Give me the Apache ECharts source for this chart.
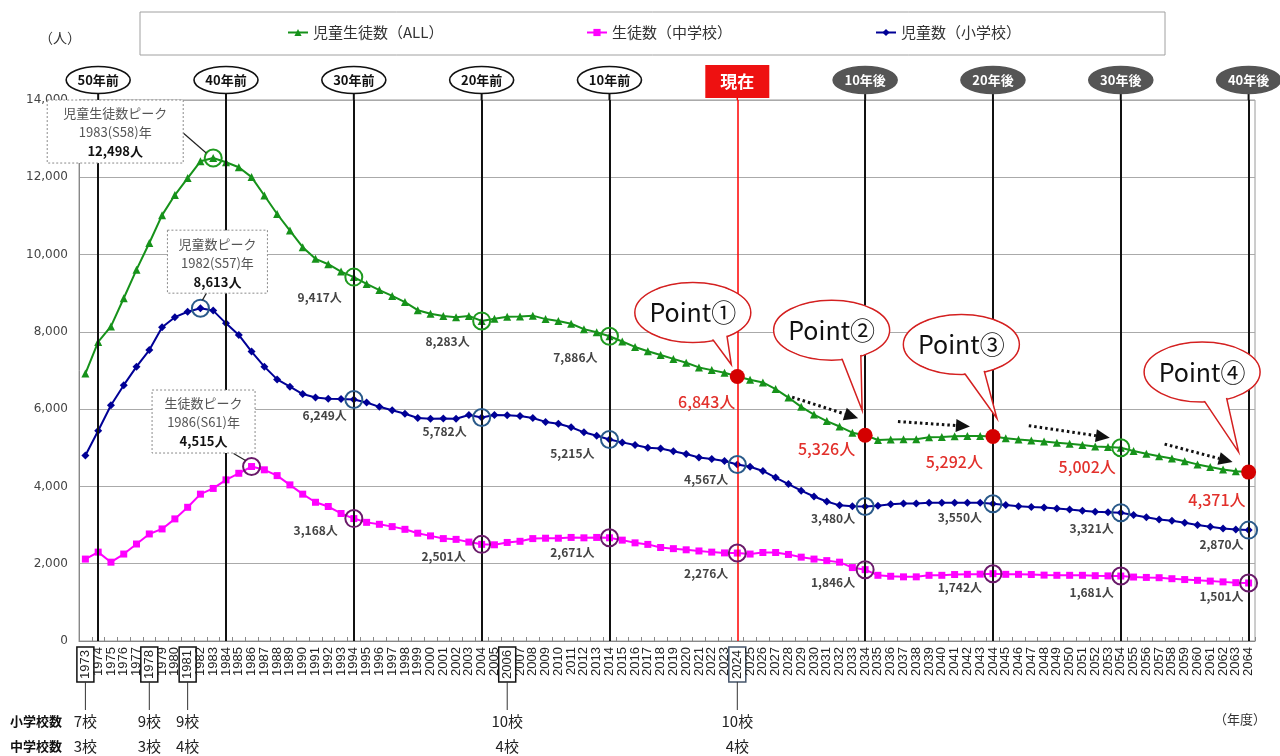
<!DOCTYPE html>
<html lang="ja"><head><meta charset="utf-8"><title>児童生徒数の推移</title>
<script src="https://cdn.jsdelivr.net/npm/echarts@6.0.0/dist/echarts.min.js"></script>
<style>html,body{margin:0;padding:0;background:#fff;}#chart{width:1280px;height:756px;}</style>
</head><body><div id="chart"></div>
<script>
// ---------------- DATA ----------------
const years = ['1973','1974','1975','1976','1977','1978','1979','1980','1981','1982',
'1983','1984','1985','1986','1987','1988','1989','1990','1991','1992',
'1993','1994','1995','1996','1997','1998','1999','2000','2001','2002',
'2003','2004','2005','2006','2007','2008','2009','2010','2011','2012',
'2013','2014','2015','2016','2017','2018','2019','2020','2021','2022',
'2023','2024','2025','2026','2027','2028','2029','2030','2031','2032',
'2033','2034','2035','2036','2037','2038','2039','2040','2041','2042',
'2043','2044','2045','2046','2047','2048','2049','2050','2051','2052',
'2053','2054','2055','2056','2057','2058','2059','2060','2061','2062',
'2063','2064'];
const totalAll = [6920,7740,8140,8870,9610,10300,11020,11540,11980,12413,
12498,12390,12260,12005,11530,11050,10620,10190,9890,9750,
9560,9417,9240,9080,8930,8770,8560,8470,8410,8380,
8410,8283,8340,8390,8400,8420,8330,8280,8210,8070,
7990,7886,7750,7610,7500,7400,7300,7200,7080,7010,
6940,6843,6760,6690,6520,6300,6060,5860,5690,5550,
5390,5326,5200,5215,5220,5220,5275,5280,5300,5305,
5305,5292,5245,5215,5190,5160,5130,5105,5070,5035,
5020,5002,4915,4845,4783,4722,4650,4570,4505,4440,
4395,4371];
const elementary = [4800,5440,6100,6620,7100,7530,8120,8380,8520,8613,
8550,8220,7920,7490,7100,6770,6580,6390,6300,6270,
6260,6249,6170,6060,5970,5880,5770,5750,5760,5750,
5850,5782,5850,5840,5820,5770,5670,5620,5530,5400,
5310,5215,5140,5070,5000,4980,4910,4840,4750,4710,
4660,4567,4510,4400,4230,4060,3890,3740,3610,3510,
3490,3480,3500,3540,3560,3560,3575,3580,3580,3580,
3575,3550,3520,3490,3470,3455,3430,3405,3370,3345,
3335,3321,3260,3200,3145,3110,3060,3000,2955,2910,
2885,2870];
const juniorHigh = [2120,2300,2040,2250,2510,2770,2900,3160,3460,3800,
3948,4170,4340,4515,4430,4280,4040,3800,3590,3480,
3300,3168,3070,3020,2960,2890,2790,2720,2650,2630,
2560,2501,2490,2550,2580,2650,2660,2660,2680,2670,
2680,2671,2610,2540,2500,2420,2390,2360,2330,2300,
2280,2276,2250,2290,2290,2240,2170,2120,2080,2040,
1900,1846,1700,1675,1660,1660,1700,1700,1720,1725,
1730,1742,1725,1725,1720,1705,1700,1700,1700,1690,
1685,1681,1655,1645,1638,1612,1590,1570,1550,1530,
1510,1501];
const seriesNames = {total:'児童生徒数（ALL）', junior:'生徒数（中学校）', elem:'児童数（小学校）'};
const decadeYears = ['1974','1984','1994','2004','2014','2034','2044','2054','2064'];
const decadeTags  = ['50年前','40年前','30年前','20年前','10年前','10年後','20年後','30年後','40年後'];
const nowYear = '2024';
const nowTag = '現在';
const schoolYears = ['1973','1978','1981','2006','2024'];
const elemSchoolCounts = ['7校','9校','9校','10校','10校'];
const juniorSchoolCounts = ['3校','3校','4校','4校','4校'];
const peakNotes = [
  {key:'total',  year:'1983', era:'S58', title:'児童生徒数ピーク'},
  {key:'elem',   year:'1982', era:'S57', title:'児童数ピーク'},
  {key:'junior', year:'1986', era:'S61', title:'生徒数ピーク'}
];
const totalRingYears  = ['1983','1994','2004','2014','2054'];
const elemRingYears   = ['1982','1994','2004','2014','2024','2034','2044','2054','2064'];
const juniorRingYears = ['1986','1994','2004','2014','2024','2034','2044','2054','2064'];
const pointYears = ['2024','2034','2044','2064'];
const pointNames = ['Point①','Point②','Point③','Point④'];
const arrowYears = ['2034','2044','2054','2064'];

// ---------------- LAYOUT / STYLE ----------------
const FONT = '"Noto Sans CJK JP","Noto Sans",sans-serif';
const AXFONT = '"Liberation Sans",Arial,sans-serif';
const C = {total:'#16921a', junior:'#ff00ff', elem:'#000096',
  ringTotal:'#1f9a1f', ringElem:'#2a5a8a', ringJunior:'#6a1a6a', red:'#d40000', redText:'#e2302b'};
const labelOff = {
  total:{'1994':[-12,20],'2004':[-12,21],'2014':[-12,21]},
  totalRed:{'2024':[-2,25],'2034':[-10,14],'2044':[-10,25],'2054':[-5,19],'2064':[-3,28]},
  elem:{'1994':[-7,16],'2004':[-15,14],'2014':[-15,14],'2024':[-9,15],'2034':[-10,12],'2044':[-11,14],'2054':[-7,16],'2064':[-5,14]},
  junior:{'1994':[-16,12],'2004':[-16,12],'2014':[-15,15],'2024':[-9,20],'2034':[-10,13],'2044':[-11,14],'2054':[-7,16],'2064':[-5,13]}
};
const peakBox = {
  total:{dx:-166,dy:-58,w:136,h:63,lead:[[-30,-25],[-7,-5]]},
  elem:{dx:-33,dy:-78,w:100,h:63,lead:[[6,-15],[2,-8]]},
  junior:{dx:-99.5,dy:-76.5,w:103,h:63,lead:[[-18,-13],[-6,-6]]}
};
const bubbleLay = [
  {c:[-44.5,-64], tip:[-6,-12], a:[52,70]},
  {c:[-33.5,-105], tip:[-3,-25], a:[58,80]},
  {c:[-31.6,-92], tip:[4,-18], a:[66,88]},
  {c:[-46.5,-100], tip:[-10,-20], a:[64,89]}
];
const arrowLay = [
  {s:[-73,-38], t:[-7,-17]},
  {s:[-95,-15], t:[-23,-10]},
  {s:[-92,-22], t:[-11,-10]},
  {s:[-84,-28], t:[-16,-10]}
];

const seriesData = {total: totalAll, elem: elementary, junior: juniorHigh};
const idx = y => years.indexOf(y);
const val = (key, y) => seriesData[key][idx(y)];
const people = v => v.toLocaleString('en-US') + '人';

function ring(key, y, color, off) {
  const item = {coord:[idx(y), val(key, y)], symbol:'circle', symbolSize:17,
    itemStyle:{color:'rgba(0,0,0,0)', borderColor:color, borderWidth:2}};
  if (off) {
    item.label = {show:true, position:'inside', align:'right', verticalAlign:'middle', offset:off,
      formatter: people(val(key, y)), color:'#444', fontSize:12, fontWeight:'bold', fontFamily:FONT};
  } else item.label = {show:false};
  return item;
}
function redDot(key, y, off) {
  return {coord:[idx(y), val(key, y)], symbol:'circle', symbolSize:15,
    itemStyle:{color:C.red, borderWidth:0},
    label:{show:true, position:'inside', align:'right', verticalAlign:'middle', offset:off,
      formatter: people(val(key, y)), color:C.redText, fontSize:16, fontWeight:500, fontFamily:FONT}};
}

const totalMarks = totalRingYears.map(y => y === '2054'
  ? Object.assign(ring('total', y, C.ringTotal), {label:{show:true, position:'inside', align:'right', verticalAlign:'middle', offset:labelOff.totalRed[y], formatter:people(val('total',y)), color:C.redText, fontSize:16, fontWeight:500, fontFamily:FONT}})
  : ring('total', y, C.ringTotal, labelOff.total[y]))
  .concat(pointYears.map(y => redDot('total', y, labelOff.totalRed[y])));
const elemMarks = elemRingYears.map(y => ring('elem', y, C.ringElem, labelOff.elem[y]));
const juniorMarks = juniorRingYears.map(y => ring('junior', y, C.ringJunior, labelOff.junior[y]));

const legendBase = {orient:'horizontal', top:25, padding:0, itemWidth:20, itemHeight:9, selectedMode:false,
  textStyle:{fontSize:15, color:'#333', fontFamily:FONT}};

const option = {
  animation:false,
  backgroundColor:'#fff',
  textStyle:{fontFamily:FONT},
  grid:{left:79, right:25, top:100, bottom:115, show:true, borderColor:'#9a9a9a', borderWidth:1},
  legend:[
    Object.assign({}, legendBase, {data:[seriesNames.total], left:287}),
    Object.assign({}, legendBase, {data:[seriesNames.junior], left:586}),
    Object.assign({}, legendBase, {data:[seriesNames.elem], left:875})
  ],
  xAxis:{type:'category', data:years, boundaryGap:true,
    axisLine:{lineStyle:{color:'#888'}},
    axisTick:{show:true, inside:true, length:4, interval:0, lineStyle:{color:'#888'}},
    axisLabel:{interval:0, rotate:90, margin:6, fontSize:13, fontFamily:AXFONT, color:'#222',
      formatter: v => schoolYears.includes(v) ? (v === nowYear ? '{n|' + v + '}' : '{b|' + v + '}') : v,
      rich:{
        b:{borderColor:'#111', borderWidth:1.5, padding:[2,3], fontSize:13, fontFamily:AXFONT, color:'#222'},
        n:{borderColor:'#44546a', borderWidth:1.5, padding:[2,3], fontSize:13, fontFamily:AXFONT, color:'#222'}
      }},
    splitLine:{show:false}},
  yAxis:{type:'value', min:0, max:14000, interval:2000,
    axisLine:{show:true, lineStyle:{color:'#888'}}, axisTick:{show:false},
    axisLabel:{fontSize:12, color:'#444', fontFamily:'"DejaVu Sans",Verdana,sans-serif', margin:11,
      formatter: v => v.toLocaleString('en-US')},
    splitLine:{lineStyle:{color:'#aaa', width:1}}},
  series:[
    {type:'line', name:'guides', data:[], z:1, silent:true,
      markLine:{silent:true, symbol:['none','none'], label:{show:false},
        data: decadeYears.map(y => ({xAxis: idx(y), lineStyle:{color:'#111', width:2, type:'solid'}}))
          .concat([{xAxis: idx(nowYear), lineStyle:{color:'#ff0000', width:1.5, type:'solid'}}])}},
    {type:'line', name:seriesNames.total, data:totalAll, z:3, symbol:'triangle', symbolSize:8, showAllSymbol:true,
      itemStyle:{color:C.total}, lineStyle:{color:C.total, width:2},
      markPoint:{silent:true, data: totalMarks}},
    {type:'line', name:seriesNames.junior, data:juniorHigh, z:3, symbol:'rect', symbolSize:7, showAllSymbol:true,
      itemStyle:{color:C.junior}, lineStyle:{color:C.junior, width:2},
      markPoint:{silent:true, data: juniorMarks}},
    {type:'line', name:seriesNames.elem, data:elementary, z:3, symbol:'diamond', symbolSize:8, showAllSymbol:true,
      itemStyle:{color:C.elem}, lineStyle:{color:C.elem, width:2},
      markPoint:{silent:true, data: elemMarks}}
  ]
};

const chart = echarts.init(document.getElementById('chart'));
chart.setOption(option);

function buildGraphics() {
  const P = (y, v) => chart.convertToPixel({gridIndex:0}, [idx(y), v]);
  const gridTop = P(years[0], 14000)[1];
  const axisY = P(years[0], 0)[1];
  const g = [];
  let z = 100;
  const txt = (x, y, text, font, fill, align, valign, extra) => ({type:'text', x, y, z:z++, silent:true,
    style:Object.assign({text, font, fill, align:align||'center', verticalAlign:valign||'middle',
      textAlign:align||'center', textVerticalAlign:valign||'middle'}, extra||{})});
  const line = (x1,y1,x2,y2,stroke,w,dash) => ({type:'line', z:z++, silent:true, shape:{x1,y1,x2,y2},
    style:{stroke, lineWidth:w, lineDash:dash||null}});

  // legend frame
  g.push({type:'rect', z:z++, silent:true, shape:{x:140, y:12, width:1025, height:43}, style:{fill:'none', stroke:'#a0a0a0', lineWidth:1}});
  // unit labels
  g.push(txt(60, 38, '（人）', '14px ' + FONT, '#333'));
  g.push(txt(1240, 719, '（年度）', '13px ' + FONT, '#333'));

  // decade tags
  decadeYears.forEach((y, i) => {
    const x = P(y, 0)[0];
    const future = decadeTags[i].indexOf('後') >= 0;
    g.push(line(x, 93, x, gridTop, '#111', 2));
    g.push({type:'ellipse', z:z++, silent:true, shape:{cx:x, cy:80, rx:32, ry:13.5},
      style:{fill: future ? '#555' : '#fff', stroke: future ? '#555' : '#111', lineWidth:1.6}});
    g.push(txt(x, 80.5, decadeTags[i], 'bold 13px ' + FONT, future ? '#fff' : '#111'));
  });
  // now tag
  const nx = P(nowYear, 0)[0];
  g.push(line(nx, 97, nx, gridTop, '#ff0000', 1.5));
  g.push({type:'rect', z:z++, silent:true, shape:{x:nx-32, y:65, width:64, height:33}, style:{fill:'#ee1111'}});
  g.push(txt(nx, 81.5, nowTag, 'bold 17px ' + FONT, '#fff'));

  // peak callouts
  peakNotes.forEach(n => {
    const v = val(n.key, n.year);
    const [ax, ay] = P(n.year, v);
    const b = peakBox[n.key];
    const bx = ax + b.dx, by = ay + b.dy;
    g.push(line(ax + b.lead[0][0], ay + b.lead[0][1], ax + b.lead[1][0], ay + b.lead[1][1], '#222', 1.2));
    g.push({type:'rect', z:z++, silent:true, shape:{x:bx, y:by, width:b.w, height:b.h},
      style:{fill:'#fff', stroke:'#8a8a8a', lineWidth:1, lineDash:[2,2]}});
    g.push(txt(bx + b.w/2, by + b.h/2 + 1, '{a|' + n.title + '}\n{a|' + n.year + '(' + n.era + ')年}\n{c|' + people(v) + '}',
      '13px ' + FONT, '#555', 'center', 'middle',
      {rich:{a:{fontSize:13, fontFamily:FONT, fill:'#555', lineHeight:19}, c:{fontSize:13, fontWeight:'bold', fontFamily:FONT, fill:'#111', lineHeight:19}}}));
  });

  // dotted arrows
  arrowYears.forEach((y, i) => {
    const [px, py] = P(y, val('total', y));
    const a = arrowLay[i];
    const x1 = px + a.s[0], y1 = py + a.s[1], x2 = px + a.t[0], y2 = py + a.t[1];
    const ang = Math.atan2(y2 - y1, x2 - x1), L = 14, W = 6.5;
    const bxx = x2 - L*Math.cos(ang), byy = y2 - L*Math.sin(ang);
    g.push(line(x1, y1, bxx, byy, '#111', 3, [2.5, 3]));
    g.push({type:'polygon', z:z++, silent:true, shape:{points:[[x2,y2],[bxx - W*Math.sin(ang), byy + W*Math.cos(ang)],[bxx + W*Math.sin(ang), byy - W*Math.cos(ang)]]},
      style:{fill:'#111'}});
  });

  // speech bubbles
  pointYears.forEach((y, i) => {
    const [px, py] = P(y, val('total', y));
    const b = bubbleLay[i];
    const cx = px + b.c[0], cy = py + b.c[1], rx = 58, ry = 30;
    const tip = [px + b.tip[0], py + b.tip[1]];
    const pa = a => [cx + (rx-3)*Math.cos(a*Math.PI/180), cy + (ry-3)*Math.sin(a*Math.PI/180)];
    g.push({type:'ellipse', z:z++, silent:true, shape:{cx, cy, rx, ry}, style:{fill:'#fff', stroke:'#d42020', lineWidth:1.5}});
    g.push({type:'polygon', z:z++, silent:true, shape:{points:[pa(b.a[0]), tip, pa(b.a[1])]}, style:{fill:'#fff', stroke:'#d42020', lineWidth:1.5}});
    g.push({type:'ellipse', z:z++, silent:true, shape:{cx, cy, rx:rx-1.2, ry:ry-1.2}, style:{fill:'#fff'}});
    g.push(txt(cx, cy, pointNames[i], '25px ' + FONT, '#111'));
  });

  // school counts below axis
  const mctx = document.createElement('canvas').getContext('2d');
  mctx.font = '13px ' + AXFONT;
  g.push(txt(10, 721, '小学校数', 'bold 13px ' + FONT, '#111', 'left'));
  g.push(txt(10, 746, '中学校数', 'bold 13px ' + FONT, '#111', 'left'));
  schoolYears.forEach((y, i) => {
    const x = P(y, 0)[0];
    const boxBottom = axisY + 6 + mctx.measureText(y).width + 6;
    g.push(line(x, boxBottom, x, 710, '#333', 1));
    g.push(txt(x, 721, elemSchoolCounts[i], '15px ' + FONT, '#222'));
    g.push(txt(x, 746, juniorSchoolCounts[i], '15px ' + FONT, '#222'));
  });

  chart.setOption({graphic:{elements:g}});
}
buildGraphics();
</script></body></html>
